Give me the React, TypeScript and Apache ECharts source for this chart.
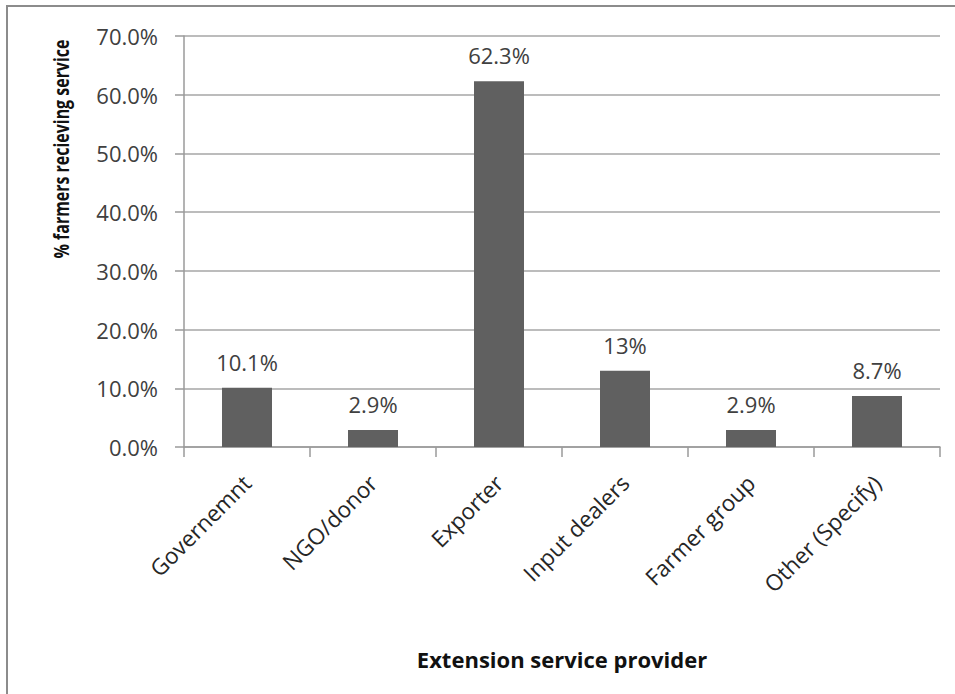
import React, { useEffect, useRef } from "react";
import * as echarts from "echarts";

const categories = ["Governemnt", "NGO/donor", "Exporter", "Input dealers", "Farmer group", "Other (Specify)"];
const values = [10.1, 2.9, 62.3, 13, 2.9, 8.7];
const valueLabels = ["10.1%", "2.9%", "62.3%", "13%", "2.9%", "8.7%"];
const yTitle = "% farmers recieving service";
const xTitle = "Extension service provider";

const FONT = "'Open Sans', 'Liberation Sans', sans-serif";

export default function App() {
  const ref = useRef<HTMLDivElement>(null);
  useEffect(() => {
    if (!ref.current) return;
    const chart = echarts.init(ref.current, undefined, { renderer: "svg" });
    chart.setOption({
      animation: false,
      backgroundColor: "#ffffff",
      grid: { left: 184, right: 15, top: 36, bottom: 247, containLabel: false },
      xAxis: {
        type: "category",
        data: categories,
        axisLine: { show: true, lineStyle: { color: "#9a9a9a", width: 1.5 } },
        axisTick: { show: true, length: 10, alignWithLabel: false, lineStyle: { color: "#9a9a9a", width: 1.5 } },
        axisLabel: {
          interval: 0,
          rotate: 45,
          margin: 32,
          fontSize: 22.5,
          color: "#262626",
          fontFamily: FONT,
        },
        name: xTitle,
        nameLocation: "middle",
        nameGap: 201,
        nameTextStyle: { fontSize: 22, fontWeight: "bold", color: "#111111", fontFamily: FONT },
      },
      yAxis: {
        type: "value",
        min: 0,
        max: 70,
        interval: 10,
        axisLine: { show: true, lineStyle: { color: "#9a9a9a", width: 1.5 } },
        axisTick: { show: true, length: 9, lineStyle: { color: "#9a9a9a", width: 1.5 } },
        splitLine: { show: true, lineStyle: { color: "#a6a6a6", width: 1.5 } },
        axisLabel: {
          margin: 26,
          fontSize: 22,
          color: "#404040",
          fontFamily: FONT,
          formatter: (v: number) => v.toFixed(1) + "%",
        },
      },
      series: [
        {
          type: "bar",
          data: values,
          barWidth: 50,
          itemStyle: { color: "#606060" },
          label: {
            show: true,
            position: "top",
            distance: 15,
            fontSize: 22,
            color: "#404040",
            fontFamily: FONT,
            formatter: (p: any) => valueLabels[p.dataIndex],
          },
        },
      ],
      graphic: [
        {
          type: "rect",
          shape: { x: 7, y: 6, width: 1200, height: 1200 },
          style: { fill: "none", stroke: "#8c8c8c", lineWidth: 2 },
          silent: true,
        },
        {
          type: "text",
          x: 61,
          y: 149,
          rotation: Math.PI / 2,
          scaleX: 0.76,
          style: {
            text: yTitle,
            fontSize: 21,
            fontWeight: "bold",
            fill: "#111111",
            fontFamily: FONT,
            align: "center",
            verticalAlign: "middle",
          },
        },
      ],
    });
    return () => chart.dispose();
  }, []);
  return (
    <div
      ref={ref}
      style={{ position: "fixed", left: 0, top: 0, width: 955, height: 694 }}
    />
  );
}
